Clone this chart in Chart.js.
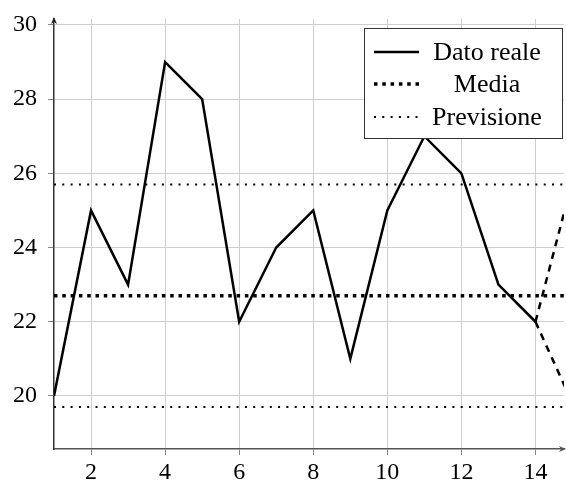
<!DOCTYPE html>
<html>
<head>
<meta charset="utf-8">
<script src="https://cdn.jsdelivr.net/npm/chart.js@4/dist/chart.umd.min.js"></script>
<style>
    html, body { margin: 0; padding: 0; background: #fff; }
    #wrap { width: 566px; height: 482px; }
</style>
</head>
<body>
<div id="wrap"><canvas id="grafico" width="566" height="482"></canvas></div>
<script>
// dati
const giorni = [1, 2, 3, 4, 5, 6, 7, 8, 9, 10, 11, 12, 13, 14];
const datoReale = [20, 25, 23, 29, 28, 22, 24, 25, 21, 25, 27, 26, 23, 22];
const mediaValore = 22.7;
const previsioneAlta = 25.7;
const previsioneBassa = 19.7;
const giorniPrevisione = [14, 15];
const previsioneSu = [22, 25.8];
const previsioneGiu = [22, 19.8];
const lineaX = [1, 15];
const tickX = [2, 4, 6, 8, 10, 12, 14];
const tickY = [20, 22, 24, 26, 28, 30];

const FONT = '"Liberation Serif", "DejaVu Serif", serif';

function punti(xs, ys) {
    return xs.map((x, i) => ({ x, y: ys[i] }));
}

function orizzontale(y) {
    return lineaX.map((x) => ({ x, y }));
}

// legenda con cornice, come quella di pgfplots
const legendaBox = {
    id: 'legendaBox',
    afterDraw(chart, args, opts) {
        const ctx = chart.ctx;
        const { left, top, width, height, rowY, lineFrom, lineTo, textX } = opts;
        ctx.save();
        ctx.fillStyle = '#fff';
        ctx.fillRect(left, top, width, height);
        ctx.strokeStyle = '#333';
        ctx.lineWidth = 1;
        ctx.strokeRect(left + 0.5, top + 0.5, width, height);

        const voci = chart.data.datasets.filter((ds) => ds.inLegenda);
        voci.forEach((ds, i) => {
            const y = rowY[i];
            ctx.beginPath();
            ctx.setLineDash(ds.borderDash || []);
            ctx.lineWidth = ds.borderWidth;
            ctx.strokeStyle = ds.borderColor;
            ctx.moveTo(lineFrom, y);
            ctx.lineTo(lineTo, y);
            ctx.stroke();
            ctx.setLineDash([]);

            ctx.fillStyle = '#000';
            ctx.font = '26px ' + FONT;
            ctx.textAlign = 'center';
            ctx.textBaseline = 'middle';
            ctx.fillText(ds.label, textX, y + 1);
        });
        ctx.restore();
    },
};

// frecce in cima agli assi
const frecce = {
    id: 'frecce',
    afterDraw(chart) {
        const ctx = chart.ctx;
        const a = chart.chartArea;
        ctx.save();
        ctx.fillStyle = '#222';
        ctx.beginPath();
        ctx.moveTo(a.left, a.top - 2);
        ctx.lineTo(a.left - 3, a.top + 5);
        ctx.lineTo(a.left, a.top + 3);
        ctx.lineTo(a.left + 3, a.top + 5);
        ctx.closePath();
        ctx.fill();

        ctx.fillStyle = '#555';
        ctx.beginPath();
        ctx.moveTo(a.right + 2, a.bottom);
        ctx.lineTo(a.right - 5, a.bottom - 3);
        ctx.lineTo(a.right - 3, a.bottom);
        ctx.lineTo(a.right - 5, a.bottom + 3);
        ctx.closePath();
        ctx.fill();
        ctx.restore();
    },
};

const ctx = document.getElementById('grafico').getContext('2d');

new Chart(ctx, {
    type: 'line',
    data: {
        datasets: [
            {
                label: 'Dato reale',
                inLegenda: true,
                data: punti(giorni, datoReale),
                borderColor: '#000',
                borderWidth: 2.5,
            },
            {
                label: 'Media',
                inLegenda: true,
                data: orizzontale(mediaValore),
                borderColor: '#000',
                borderWidth: 3.5,
                borderDash: [3.5, 4.8],
            },
            {
                label: 'Previsione',
                inLegenda: true,
                data: orizzontale(previsioneAlta),
                borderColor: '#000',
                borderWidth: 2,
                borderDash: [2, 6.3],
            },
            {
                label: 'Previsione bassa',
                data: orizzontale(previsioneBassa),
                borderColor: '#000',
                borderWidth: 2,
                borderDash: [2, 6.3],
            },
            {
                label: 'Tendenza su',
                data: punti(giorniPrevisione, previsioneSu),
                borderColor: '#000',
                borderWidth: 2.5,
                borderDash: [7, 6],
            },
            {
                label: 'Tendenza giu',
                data: punti(giorniPrevisione, previsioneGiu),
                borderColor: '#000',
                borderWidth: 2.5,
                borderDash: [7, 6],
            },
        ],
    },
    options: {
        animation: false,
        responsive: false,
        devicePixelRatio: 1,
        elements: {
            point: { radius: 0 },
            line: { tension: 0, fill: false, borderJoinStyle: 'miter' },
        },
        layout: {
            padding: { top: 19, right: 2, left: 0, bottom: 0 },
        },
        plugins: {
            legend: { display: false },
            tooltip: { enabled: false },
            legendaBox: {
                left: 364,
                top: 28,
                width: 198,
                height: 110,
                rowY: [52, 84, 117],
                lineFrom: 374,
                lineTo: 419,
                textX: 487,
            },
        },
        scales: {
            x: {
                type: 'linear',
                min: 1,
                max: 14.77,
                afterBuildTicks: (scale) => {
                    scale.ticks = tickX.map((value) => ({ value }));
                },
                afterFit: (scale) => {
                    scale.height = 33;
                    scale.paddingLeft = 0;
                    scale.paddingRight = 0;
                },
                grid: {
                    color: '#cfcfcf',
                    lineWidth: 1,
                    tickLength: 6,
                    tickColor: '#888',
                },
                border: { display: true, color: '#555', width: 1.5 },
                ticks: {
                    color: '#000',
                    padding: 3,
                    maxRotation: 0,
                    font: { family: FONT, size: 24 },
                },
            },
            y: {
                type: 'linear',
                min: 18.57,
                max: 30.16,
                afterBuildTicks: (scale) => {
                    scale.ticks = tickY.map((value) => ({ value }));
                },
                afterFit: (scale) => {
                    scale.width = 54;
                    scale.paddingTop = 0;
                    scale.paddingBottom = 0;
                },
                grid: {
                    color: '#cfcfcf',
                    lineWidth: 1,
                    tickLength: 6,
                    tickColor: '#888',
                },
                border: { display: true, color: '#333', width: 1.5 },
                ticks: {
                    color: '#000',
                    padding: 11,
                    font: { family: FONT, size: 24 },
                },
            },
        },
    },
    plugins: [legendaBox, frecce],
});
</script>
</body>
</html>
